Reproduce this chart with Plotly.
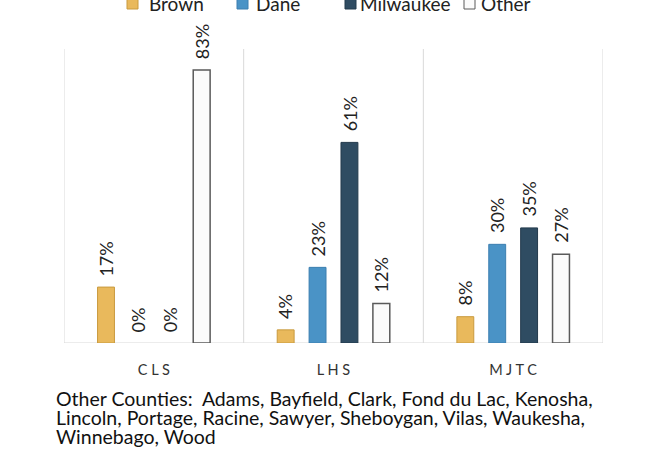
import plotly.graph_objects as go

categories = ["CLS", "LHS", "MJTC"]
tick_labels = ["C L S", "L H S", "M J T C"]
series_names = ["Brown", "Dane", "Milwaukee", "Other"]
brown = [0.17, 0.04, 0.08]
dane = [0.00, 0.23, 0.30]
milwaukee = [0.00, 0.61, 0.35]
other = [0.83, 0.12, 0.27]
footnote_lines = ["Other Counties:  Adams, Bayfield, Clark, Fond du Lac, Kenosha,",
                  "Lincoln, Portage, Racine, Sawyer, Sheboygan, Vilas, Waukesha,",
                  "Winnebago, Wood"]

values = [brown, dane, milwaukee, other]
fills = ["#E9B95C", "#4A93C6", "#2F4C62", "#FBFBFB"]
lines = ["#C99A3E", "#3C7FB0", "#233A4C", "#5A5A5A"]
FONT = "Lato, 'Open Sans', sans-serif"

W, H = 653, 458
L, R, T, B = 64, 50, 49, 115
BARGAP, GROUPGAP = 0.29, 0.47
YMAX = 0.894
plot_w = W - L - R
plot_h = H - T - B


def px_x(p):
    return (p - L) / plot_w


def px_y(p):
    return (H - B - p) / plot_h


fig = go.Figure()
for name, vals, fc, lc in zip(series_names, values, fills, lines):
    lw = 1.5 if name == "Other" else 1
    fig.add_trace(go.Bar(
        name=name, x=categories, y=vals, showlegend=False,
        marker=dict(color=fc, line=dict(color=lc, width=[lw if v > 0 else 0 for v in vals])),
    ))

# value labels
cat_w = plot_w / len(categories)
slot = cat_w * (1 - BARGAP) / len(series_names)
for i, vals in enumerate(values):
    off = (i - (len(series_names) - 1) / 2) * slot
    for c, v in zip(categories, vals):
        fig.add_annotation(x=c, y=v, xref="x", yref="y", text=f"{v:.0%}",
                           textangle=-90, showarrow=False, xanchor="center",
                           yanchor="bottom", xshift=off, yshift=9,
                           font=dict(size=18, color="#222222", family=FONT))

# legend (drawn manually to match the original spacing)
legend_sym_x = [127, 237, 345, 464]
legend_txt_x = [147, 254, 358, 479]
for name, fc, lc, sx, tx in zip(series_names, fills, lines, legend_sym_x, legend_txt_x):
    fig.add_shape(type="rect", xref="paper", yref="paper",
                  x0=px_x(sx), x1=px_x(sx + 11), y0=px_y(9), y1=px_y(-3),
                  fillcolor=fc, line=dict(color=lc, width=1))
    fig.add_annotation(text=name, xref="paper", yref="paper", x=px_x(tx),
                       y=px_y(3), xanchor="left", yanchor="middle", showarrow=False,
                       font=dict(size=19, color="#222222", family=FONT))

fig.update_layout(
    width=W, height=H,
    margin=dict(l=L, r=R, t=T, b=B, autoexpand=False),
    barmode="group", bargap=BARGAP, bargroupgap=GROUPGAP,
    plot_bgcolor="white", paper_bgcolor="white",
    font=dict(family=FONT, size=15, color="#222222"),
    showlegend=False,
)
fig.update_xaxes(tickmode="array", tickvals=categories, ticktext=tick_labels,
                 showgrid=False, showline=False, ticks="", ticklabelstandoff=16,
                 tickfont=dict(size=14.5, color="#333333", family=FONT),
                 range=[-0.5, 2.5])
fig.update_yaxes(range=[0, YMAX], showgrid=False, showticklabels=False,
                 zeroline=False, showline=False)

for xb in [-0.5, 0.5, 1.5, 2.5]:
    fig.add_shape(type="line", xref="x", yref="paper", x0=xb, x1=xb, y0=0, y1=1,
                  line=dict(color="#D9D9D9", width=1), layer="below")
fig.add_shape(type="line", xref="paper", yref="y", x0=0, x1=1, y0=0, y1=0,
              line=dict(color="#D9D9D9", width=1), layer="below")

for k, line in enumerate(footnote_lines):
    fig.add_annotation(text=line, xref="paper", yref="paper", x=px_x(54),
                       y=px_y(398 + 19 * k), xanchor="left", yanchor="middle",
                       align="left", showarrow=False,
                       font=dict(size=19.5, color="#111111", family=FONT))

fig.write_html("out.html", config={"displayModeBar": False},
               post_script="document.body.style.margin='0';")
